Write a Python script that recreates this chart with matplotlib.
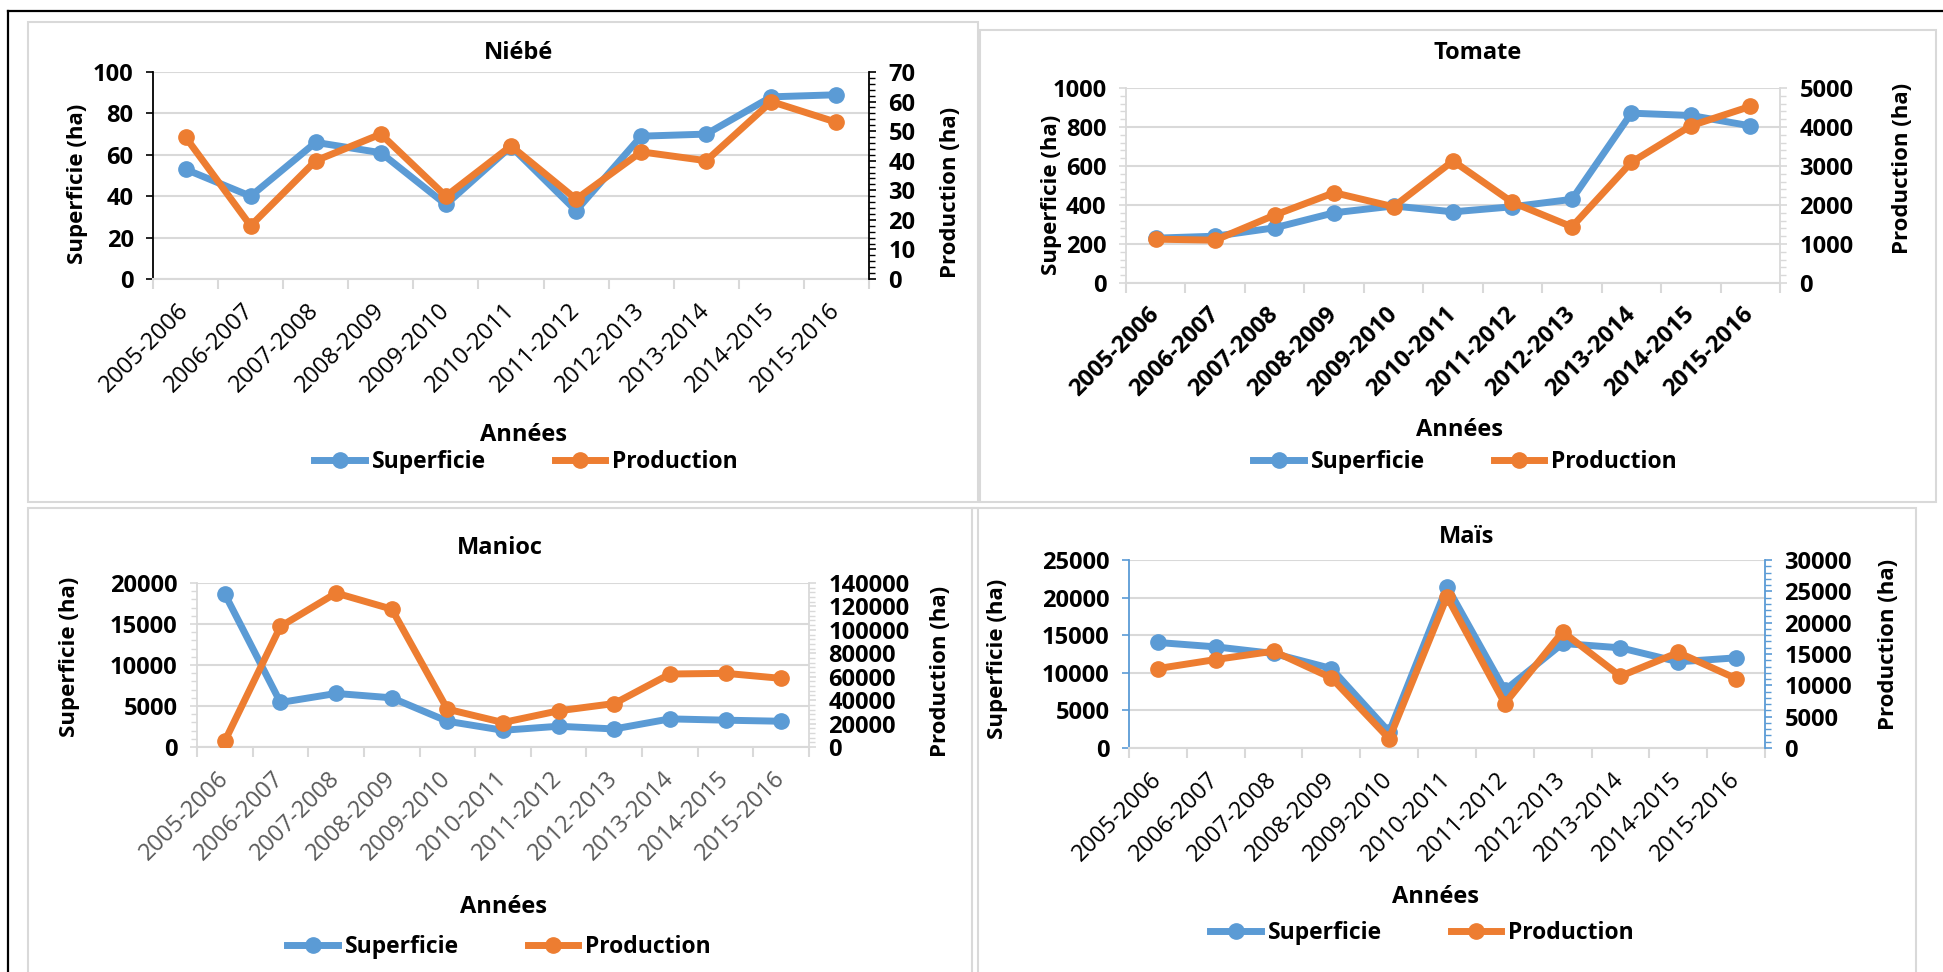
import matplotlib
matplotlib.use("Agg")
import matplotlib.pyplot as plt
import numpy as np
from matplotlib.lines import Line2D
from matplotlib.patches import Rectangle
from matplotlib.ticker import MultipleLocator

W, H = 1943, 972
BLUE = "#5B9BD5"
ORANGE = "#ED7D31"
GRID = "#D9D9D9"

plt.rcParams["font.family"] = ["Open Sans", "DejaVu Sans"]

annees = ["2005-2006", "2006-2007", "2007-2008", "2008-2009", "2009-2010", "2010-2011",
          "2011-2012", "2012-2013", "2013-2014", "2014-2015", "2015-2016"]

niebe_superficie = [53, 40, 66, 61, 36, 64, 33, 69, 70, 88, 89]
niebe_production = [48, 18, 40, 49, 28, 45, 27, 43, 40, 60, 53]

tomate_superficie = [230, 240, 283, 360, 395, 365, 391, 429, 871, 859, 806]
tomate_production = [1124, 1098, 1741, 2316, 1955, 3130, 2067, 1441, 3096, 4031, 4528]

manioc_superficie = [18650, 5430, 6530, 6000, 3140, 2040, 2530, 2200, 3430, 3270, 3140]
manioc_production = [5100, 102900, 131400, 117700, 32300, 20900, 30900, 37100, 62300, 62900, 58600]

mais_superficie = [14030, 13450, 12570, 10570, 2130, 21450, 7680, 13900, 13320, 11460, 11990]
mais_production = [12680, 14120, 15450, 11190, 1490, 24140, 7090, 18540, 11460, 15240, 11080]

LW = 5
MS = 11


def fx(x):
    return x / W


def fy(y):
    return 1 - y / H


def add_axes_px(fig, left, top, right, bottom):
    return fig.add_axes([fx(left), fy(bottom), (right - left) / W, (bottom - top) / H])


def style_y(axis, color, minor, side):
    axis.spines[side].set_visible(True)
    axis.spines[side].set_color(color)
    axis.spines[side].set_linewidth(1.3)
    axis.tick_params(axis="y", which="major", direction="out", length=5, width=1.2,
                     color=color, labelsize=17, pad=9, labelcolor="black")
    if minor:
        axis.yaxis.set_minor_locator(MultipleLocator(minor))
        axis.tick_params(axis="y", which="minor", direction="out", length=4, width=1.0, color=color)
    for lab in axis.get_yticklabels():
        lab.set_fontweight("bold")


def draw_panel(fig, p):
    ax = add_axes_px(fig, *p["box"])
    ax2 = ax.twinx()
    x = np.arange(len(annees))

    ax.plot(x, p["sup"], color=BLUE, lw=LW, marker="o", ms=MS, zorder=3)
    ax2.plot(x, p["prod"], color=ORANGE, lw=LW, marker="o", ms=MS, zorder=3)

    ax.set_xlim(-0.5, len(annees) - 0.5)
    ax.set_ylim(0, p["ymax"])
    ax2.set_ylim(0, p["y2max"])
    ax.set_yticks(np.arange(0, p["ymax"] + 1, p["ystep"]))
    ax2.set_yticks(np.arange(0, p["y2max"] + 1, p["y2step"]))
    ax.yaxis.grid(True, color=GRID, lw=1.5)
    ax.set_axisbelow(True)

    for s in ["top", "right"]:
        ax.spines[s].set_visible(False)
    for s in ["top", "left", "bottom"]:
        ax2.spines[s].set_visible(False)
    ax.spines["bottom"].set_color(GRID)
    ax.spines["bottom"].set_linewidth(1.5)

    style_y(ax, p["lcolor"], p["lminor"], "left")
    style_y(ax2, p["rcolor"], p["rminor"], "right")

    ax.set_xticks(x)
    ax.set_xticklabels(annees, rotation=45, ha="right", va="center", rotation_mode="anchor",
                       fontsize=17, fontweight=p["xweight"], color=p["xcolor"])
    ax.tick_params(axis="x", which="major", length=0, pad=20)
    ax.set_xticks(np.arange(-0.5, len(annees)), minor=True)
    ax.tick_params(axis="x", which="minor", direction="out", length=7, width=1.5, color=GRID)

    tx, ty = p["title"]
    fig.text(fx(tx), fy(ty), p["name"], ha="center", va="center", fontsize=17, fontweight="bold")
    lx, ly = p["ylab"]
    fig.text(fx(lx), fy(ly), "Superficie (ha)", rotation=90, ha="center", va="center",
             fontsize=16, fontweight="bold")
    rx, ry = p["y2lab"]
    fig.text(fx(rx), fy(ry), "Production (ha)", rotation=90, ha="center", va="center",
             fontsize=16, fontweight="bold")
    axx, axy = p["xlab"]
    fig.text(fx(axx), fy(axy), "Années", ha="center", va="center", fontsize=17, fontweight="bold")

    handles = [
        Line2D([], [], color=BLUE, lw=LW, marker="o", ms=MS),
        Line2D([], [], color=ORANGE, lw=LW, marker="o", ms=MS),
    ]
    gx, gy = p["legend"]
    fig.legend(handles, ["Superficie", "Production"], loc="center", ncol=2,
               bbox_to_anchor=(fx(gx), fy(gy)), frameon=False,
               prop={"size": 16.5, "weight": "bold"}, handlelength=2.2,
               handletextpad=0.3, columnspacing=3.0, borderpad=0)
    return ax, ax2


panels = [
    dict(name="Niébé", box=(153, 72, 869, 279), sup=niebe_superficie, prod=niebe_production,
         ymax=100, ystep=20, y2max=70, y2step=10, lcolor="black", rcolor="black",
         lminor=None, rminor=2, xweight="normal", xcolor="black",
         title=(519, 53), ylab=(77, 184), y2lab=(950, 192), xlab=(524, 435), legend=(526, 462)),
    dict(name="Tomate", box=(1126, 88, 1780, 283), sup=tomate_superficie, prod=tomate_production,
         ymax=1000, ystep=200, y2max=5000, y2step=1000, lcolor=GRID, rcolor=GRID,
         lminor=40, rminor=200, xweight="bold", xcolor="black",
         title=(1478, 53), ylab=(1052, 195), y2lab=(1902, 168), xlab=(1459, 430), legend=(1465, 462)),
    dict(name="Manioc", box=(197, 583, 809, 747), sup=manioc_superficie, prod=manioc_production,
         ymax=20000, ystep=5000, y2max=140000, y2step=20000, lcolor=GRID, rcolor=GRID,
         lminor=1000, rminor=4000, xweight="normal", xcolor="#595959",
         title=(500, 548), ylab=(70, 657), y2lab=(940, 671), xlab=(503, 907), legend=(499, 947)),
    dict(name="Maïs", box=(1129, 560, 1765, 748), sup=mais_superficie, prod=mais_production,
         ymax=25000, ystep=5000, y2max=30000, y2step=5000, lcolor=BLUE, rcolor=BLUE,
         lminor=None, rminor=1000, xweight="normal", xcolor="black",
         title=(1467, 537), ylab=(997, 659), y2lab=(1888, 644), xlab=(1435, 897), legend=(1422, 933)),
]

fig = plt.figure(figsize=(W / 100, H / 100), dpi=100)
fig.patch.set_facecolor("white")

# panel frames
for left, top, right, bottom in [(28, 22, 978, 502), (980, 30, 1936, 502),
                                 (28, 508, 978, 980), (972, 508, 1916, 980)]:
    fig.add_artist(Rectangle((fx(left), fy(bottom)), (right - left) / W, (bottom - top) / H,
                             transform=fig.transFigure, fill=False, edgecolor=GRID, lw=1.5))
# outer black frame (top and left edges)
fig.add_artist(Line2D([fx(8), 1], [fy(11), fy(11)], transform=fig.transFigure, color="black", lw=1.6))
fig.add_artist(Line2D([fx(8), fx(8)], [fy(11), 0], transform=fig.transFigure, color="black", lw=1.6))

for p in panels:
    draw_panel(fig, p)

fig.savefig("out.png", dpi=100)
